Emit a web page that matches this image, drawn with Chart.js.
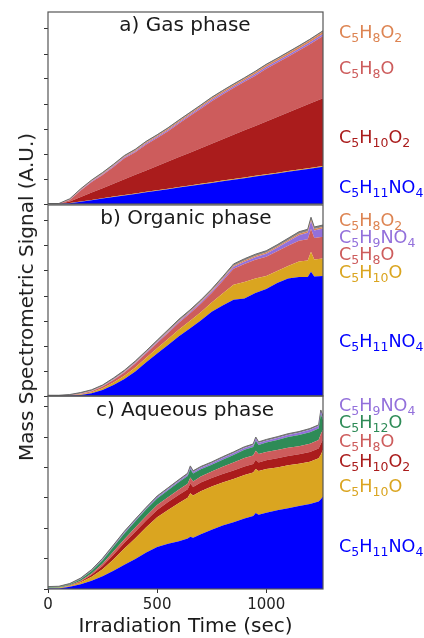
<!DOCTYPE html>
<html><head><meta charset="utf-8">
<script src="https://cdn.jsdelivr.net/npm/chart.js@4.4.1/dist/chart.umd.min.js"></script>
<style>
html,body{margin:0;padding:0;background:#fff;}
#wrap{position:relative;width:424px;height:638px;overflow:hidden;font-family:"DejaVu Sans",sans-serif;}
canvas{position:absolute;left:0;}
.ttl{position:absolute;font-size:20px;color:#1a1a1a;white-space:nowrap;transform:translate(-50%,-50%);line-height:1;}
.lg{position:absolute;left:339px;font-size:17.6px;white-space:nowrap;transform:translateY(-50%);line-height:1;}
.lg sub{font-size:12.5px;vertical-align:-4px;line-height:0;}
#ylab{position:absolute;left:26px;top:297px;font-size:20px;color:#1a1a1a;white-space:nowrap;transform:translate(-50%,-50%) rotate(-90deg);line-height:1;}
</style></head>
<body><div id="wrap">
<canvas id="ca" width="340" height="206" style="top:0px;width:340px;height:206px"></canvas>
<canvas id="cb" width="340" height="195" style="top:203px;width:340px;height:195px"></canvas>
<canvas id="cc" width="340" height="244" style="top:394px;width:340px;height:244px"></canvas>
<div id="ylab">Mass Spectrometric Signal (A.U.)</div>
</div>
<script>
// ---------- DATA ----------
const panelTitles = ['a) Gas phase', 'b) Organic phase', 'c) Aqueous phase'];
const xTitle = 'Irradiation Time (sec)';
const xTicks = [0, 500, 1000];
const yTicksAB = [0,1,2,3,4,5,6,7];
const yTicksC = [0,1,2,3,4,5,6];

// a) Gas phase (layer thicknesses, bottom to top)
const timeGas = [0,50,100,150,200,250,300,350,400,450,500,550,600,650,700,750,800,850,900,950,1000,1050,1100,1150,1200,1260];
const gasC5H11NO4 = [0,0,0.03,0.09,0.15,0.22,0.28,0.34,0.4,0.47,0.53,0.59,0.66,0.72,0.78,0.84,0.91,0.97,1.03,1.1,1.16,1.22,1.29,1.35,1.41,1.49];
const gasC5H10O   = [0,0,0.01,0.01,0.01,0.01,0.02,0.02,0.02,0.02,0.02,0.02,0.02,0.02,0.03,0.03,0.03,0.03,0.03,0.03,0.03,0.03,0.03,0.03,0.03,0.03];
const gasC5H10O2  = [0,0,0.06,0.18,0.3,0.4,0.51,0.63,0.75,0.85,0.97,1.09,1.2,1.31,1.42,1.54,1.65,1.77,1.89,1.99,2.11,2.23,2.34,2.46,2.58,2.71];
const gasC5H8O    = [0,0,0.06,0.26,0.42,0.53,0.67,0.84,0.9,1.04,1.12,1.21,1.34,1.47,1.58,1.7,1.79,1.87,1.94,2.01,2.11,2.17,2.23,2.3,2.37,2.49];
const gasC5H9NO4  = [0,0,0.01,0.02,0.03,0.03,0.04,0.04,0.04,0.05,0.05,0.05,0.05,0.05,0.06,0.06,0.06,0.06,0.06,0.07,0.07,0.07,0.07,0.07,0.08,0.08];
const gasC5H8O2   = [0,0,0.01,0.02,0.02,0.03,0.03,0.03,0.04,0.04,0.04,0.05,0.05,0.05,0.05,0.06,0.06,0.06,0.06,0.07,0.07,0.07,0.08,0.08,0.08,0.09];
const gasOther    = [0.02,0.02,0.03,0.03,0.03,0.04,0.04,0.04,0.04,0.04,0.04,0.04,0.04,0.04,0.04,0.04,0.04,0.04,0.04,0.04,0.04,0.04,0.04,0.04,0.04,0.04];
const gasLegend = ['C5H8O2','C5H8O','C5H10O2','C5H11NO4'];

// b) Organic phase
const timeOrg = [0,50,100,150,200,250,300,350,400,450,500,550,600,650,700,750,800,850,900,950,1000,1050,1100,1150,1190,1205,1220,1260];
const orgC5H11NO4 = [0,0,0.01,0.04,0.11,0.24,0.44,0.68,0.98,1.35,1.7,2.04,2.39,2.7,3.02,3.37,3.62,3.85,3.9,4.12,4.28,4.52,4.7,4.76,4.76,4.97,4.78,4.8];
const orgC5H10O   = [0,0,0.01,0.02,0.04,0.07,0.1,0.13,0.16,0.18,0.21,0.24,0.27,0.3,0.33,0.37,0.48,0.6,0.66,0.58,0.52,0.48,0.5,0.62,0.66,0.8,0.68,0.7];
const orgC5H8O    = [0,0,0.01,0.02,0.04,0.07,0.1,0.13,0.16,0.18,0.21,0.24,0.27,0.3,0.34,0.38,0.5,0.64,0.72,0.75,0.77,0.79,0.81,0.83,0.85,0.92,0.86,0.87];
const orgC5H9NO4  = [0,0,0,0.01,0.01,0.01,0.02,0.02,0.03,0.03,0.04,0.04,0.05,0.05,0.06,0.06,0.07,0.08,0.09,0.1,0.12,0.14,0.17,0.22,0.26,0.3,0.3,0.33];
const orgC5H8O2   = [0,0,0,0.01,0.01,0.01,0.01,0.02,0.02,0.02,0.02,0.03,0.03,0.03,0.03,0.04,0.04,0.04,0.05,0.05,0.05,0.05,0.05,0.06,0.06,0.06,0.06,0.06];
const orgOther    = [0.03,0.03,0.03,0.04,0.04,0.04,0.05,0.05,0.05,0.05,0.05,0.06,0.06,0.06,0.06,0.06,0.06,0.07,0.07,0.07,0.07,0.07,0.08,0.08,0.08,0.1,0.08,0.08];
const orgLegend = ['C5H8O2','C5H9NO4','C5H8O','C5H10O','C5H11NO4'];

// c) Aqueous phase
const timeAq = [0,50,100,150,200,250,300,350,400,450,500,550,600,640,652,665,700,750,800,850,900,940,952,965,1000,1050,1100,1150,1200,1240,1250,1260];
const aqC5H11NO4 = [0.02,0.02,0.07,0.16,0.27,0.42,0.6,0.8,0.99,1.2,1.38,1.49,1.57,1.66,1.72,1.69,1.8,1.95,2.09,2.2,2.32,2.4,2.5,2.44,2.51,2.59,2.66,2.73,2.8,2.88,2.95,3.04];
const aqC5H10O   = [0.01,0.02,0.03,0.06,0.13,0.23,0.37,0.53,0.68,0.83,0.98,1.11,1.26,1.34,1.43,1.39,1.42,1.42,1.41,1.42,1.43,1.43,1.45,1.44,1.44,1.41,1.41,1.39,1.39,1.42,1.47,1.54];
const aqC5H10O2  = [0,0,0.01,0.03,0.07,0.11,0.16,0.19,0.21,0.22,0.24,0.26,0.27,0.28,0.32,0.28,0.28,0.28,0.28,0.28,0.28,0.28,0.3,0.28,0.29,0.3,0.31,0.31,0.32,0.32,0.36,0.33];
const aqC5H8O    = [0,0,0.01,0.02,0.04,0.07,0.1,0.12,0.14,0.15,0.16,0.16,0.17,0.18,0.2,0.18,0.2,0.22,0.24,0.26,0.28,0.28,0.3,0.28,0.27,0.27,0.27,0.27,0.27,0.28,0.32,0.33];
const aqC5H12O   = [0.02,0.02,0.03,0.05,0.08,0.12,0.16,0.19,0.21,0.22,0.22,0.23,0.25,0.26,0.28,0.26,0.24,0.22,0.23,0.25,0.27,0.28,0.33,0.3,0.31,0.33,0.35,0.37,0.38,0.38,0.65,0.32];
const aqC5H9NO4  = [0,0,0,0.01,0.01,0.02,0.02,0.03,0.03,0.03,0.04,0.04,0.04,0.05,0.05,0.05,0.05,0.05,0.06,0.06,0.06,0.06,0.07,0.06,0.06,0.07,0.07,0.07,0.08,0.08,0.09,0.08];
const aqOther    = [0.03,0.03,0.03,0.03,0.04,0.04,0.04,0.04,0.04,0.04,0.04,0.04,0.04,0.04,0.05,0.04,0.04,0.04,0.04,0.04,0.04,0.04,0.05,0.04,0.04,0.04,0.04,0.04,0.04,0.04,0.05,0.04];
const aqLegend = ['C5H9NO4','C5H12O','C5H8O','C5H10O2','C5H10O','C5H11NO4'];

// ---------- STYLE ----------
const COLORS = {C5H11NO4:'#0000FF', C5H10O:'#DAA520', C5H10O2:'#AA1C1C', C5H8O:'#CD5C5C',
  C5H12O:'#2E8B57', C5H9NO4:'#9370DB', C5H8O2:'#DD8452', other:'#858585'};
const FONT = 'DejaVu Sans';
const legendY = {a:[33,69,138,188], b:[221,238,255,273,342], c:[406,423,442,462,487,547]};
const titlePos = [[185,24],[186,217],[185,409]];

const framePlugin = {
  id:'frame',
  afterDraw(chart){
    const a = chart.chartArea, ctx = chart.ctx;
    ctx.save(); ctx.strokeStyle = '#555'; ctx.lineWidth = 1.2;
    ctx.strokeRect(a.left, a.top, a.right - a.left, a.bottom - a.top);
    ctx.restore();
  }
};

function makePanel(id, times, layers, yMax, yTicks, showX, padTop, padBottom){
  const datasets = layers.map((l, i) => ({
    label: l.name,
    data: times.map((t, j) => ({x: t, y: l.values[j]})),
    backgroundColor: COLORS[l.name],
    borderColor: l.name === 'other' ? '#6a6a6a' : COLORS[l.name],
    borderWidth: l.name === 'other' ? 1 : 0,
    fill: i === 0 ? 'origin' : '-1',
    pointRadius: 0, tension: 0
  }));
  return new Chart(document.getElementById(id), {
    type: 'line',
    data: {datasets},
    plugins: [framePlugin],
    options: {
      responsive: false, maintainAspectRatio: false, animation: false, devicePixelRatio: 1,
      layout: {padding: {left: 40, right: 17, top: padTop, bottom: padBottom}},
      plugins: {legend: {display: false}, tooltip: {enabled: false}},
      scales: {
        x: {type: 'linear', min: 0, max: 1260, display: showX,
          afterBuildTicks: s => { s.ticks = xTicks.map(v => ({value: v})); },
          ticks: {maxRotation: 0, autoSkip: false, color: '#222', padding: 3,
                  font: {family: FONT, size: 15}, callback: v => String(v)},
          grid: {display: true, drawOnChartArea: false, drawTicks: true, tickLength: 4, color: '#333'},
          border: {display: false},
          title: {display: true, text: xTitle, color: '#1a1a1a', font: {family: FONT, size: 20, lineHeight: 1.1},
                  padding: {top: 0, bottom: 0}},
          afterFit: s => { s.height = showX ? 49 : 0; }
        },
        y: {type: 'linear', stacked: true, min: 0, max: yMax,
          afterBuildTicks: s => { s.ticks = yTicks.map(v => ({value: v})); },
          ticks: {display: false, autoSkip: false},
          grid: {display: true, drawOnChartArea: false, drawTicks: true, tickLength: 4, color: '#333'},
          border: {display: false},
          afterFit: s => { s.width = 8; }
        }
      }
    }
  });
}

makePanel('ca', timeGas, [
  {name:'C5H11NO4', values: gasC5H11NO4},
  {name:'C5H10O', values: gasC5H10O},
  {name:'C5H10O2', values: gasC5H10O2},
  {name:'C5H8O', values: gasC5H8O},
  {name:'C5H9NO4', values: gasC5H9NO4},
  {name:'C5H8O2', values: gasC5H8O2},
  {name:'other', values: gasOther}
], 7.68, yTicksAB, false, 12, 2);

makePanel('cb', timeOrg, [
  {name:'C5H11NO4', values: orgC5H11NO4},
  {name:'C5H10O', values: orgC5H10O},
  {name:'C5H8O', values: orgC5H8O},
  {name:'C5H9NO4', values: orgC5H9NO4},
  {name:'C5H8O2', values: orgC5H8O2},
  {name:'other', values: orgOther}
], 7.64, yTicksAB, false, 2, 2);

makePanel('cc', timeAq, [
  {name:'C5H11NO4', values: aqC5H11NO4},
  {name:'C5H10O', values: aqC5H10O},
  {name:'C5H10O2', values: aqC5H10O2},
  {name:'C5H8O', values: aqC5H8O},
  {name:'C5H12O', values: aqC5H12O},
  {name:'C5H9NO4', values: aqC5H9NO4},
  {name:'other', values: aqOther}
], 6.35, yTicksC, true, 2, 0);

// ---------- TEXT OVERLAYS ----------
const wrap = document.getElementById('wrap');
function formula(s){ return s.replace(/(\d+)/g, '<sub>$1</sub>'); }
panelTitles.forEach((t, i) => {
  const d = document.createElement('div');
  d.className = 'ttl'; d.textContent = t;
  d.style.left = titlePos[i][0] + 'px'; d.style.top = titlePos[i][1] + 'px';
  wrap.appendChild(d);
});
[[gasLegend, legendY.a],[orgLegend, legendY.b],[aqLegend, legendY.c]].forEach(([names, ys]) => {
  names.forEach((n, i) => {
    const d = document.createElement('div');
    d.className = 'lg'; d.innerHTML = formula(n);
    d.style.color = COLORS[n]; d.style.top = ys[i] + 'px';
    wrap.appendChild(d);
  });
});
</script>
</body></html>
